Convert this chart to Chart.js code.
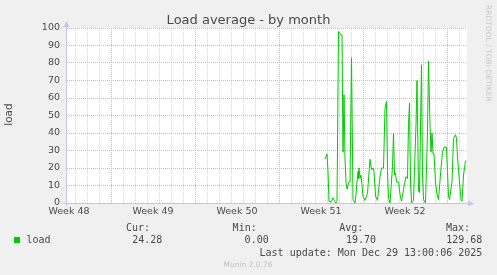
<!DOCTYPE html>
<html>
<head>
<meta charset="utf-8">
<script src="https://cdn.jsdelivr.net/npm/chart.js@4/dist/chart.umd.min.js"></script>
<style>
  html, body { margin: 0; padding: 0; background: #f0f0f0; }
  canvas { display: block; }
</style>
</head>
<body>
<canvas id="chart" width="497" height="275"></canvas>
<script>
// sample times, hours from the start of week 49
const sampleHours = [428, 432, 434, 436, 440, 444, 448, 450, 452, 455, 458, 460, 462, 464, 466, 468,
  470, 472, 476, 478, 481, 484, 488, 490, 492, 494, 495, 496, 498, 500, 504, 508, 513, 518, 521,
  524, 526, 529, 533, 538, 541, 545, 548, 551, 553, 555, 558, 563, 565, 567, 569, 571, 575, 578,
  581, 587, 590, 593, 595, 597, 599, 601, 605, 610, 612, 615, 617, 621, 623, 625, 629, 633, 635,
  638, 640, 642, 644, 646, 649, 652, 655, 660, 663, 666, 670, 671, 673, 675, 677, 682, 685, 689,
  691, 693, 697, 700, 702, 705, 709, 710];
const loadValues = [25, 28, 18, 1, 0.5, 3, 0.5, 0, 1, 98, 97, 96, 96, 29, 62, 25,
  12, 8, 12, 12, 83, 2, 0, 5, 12, 18, 14, 20, 14, 16, 4, 1.5, 5.5, 25, 19,
  20, 18, 4, 1.5, 15, 20, 20, 54, 58, 18, 3, 0, 21, 40, 16, 17, 12, 12, 5,
  1, 11, 15, 14, 45, 57, 12, 0, 1.5, 45, 70, 7, 6, 79, 16, 2, 0, 41, 81,
  45, 29, 40, 28, 28, 12, 5, 2, 20, 29, 32, 32, 31, 18, 4, 2, 12, 37, 39,
  37, 26, 12, 2, 1, 16, 24, 24.3];

const weekLabels = ['Week 48', 'Week 49', 'Week 50', 'Week 51', 'Week 52'];
const weekLabelHours = [-84, 84, 252, 420, 588];
const yTickValues = [0, 10, 20, 30, 40, 50, 60, 70, 80, 90, 100];

const seriesName = 'load';
const statNames = ['Cur:', 'Min:', 'Avg:', 'Max:'];
const statValues = ['24.28', '0.00', '19.70', '129.68'];
const lastUpdate = 'Last update: Mon Dec 29 13:00:06 2025';

const axisColor = '#c4c4f0';
const minorGrid = '#d4d4d4';
const majorGrid = '#eeaaaa';
const textColor = '#4a4a4a';
const lineGreen = '#00cc00';

const rrdDecor = {
  id: 'rrdDecor',
  beforeDraw(chart) {
    const { ctx, chartArea: a } = chart;
    ctx.save();
    ctx.fillStyle = '#f0f0f0';
    ctx.fillRect(0, 0, chart.width, chart.height);
    ctx.fillStyle = '#ffffff';
    ctx.fillRect(a.left, a.top, a.right - a.left, a.bottom - a.top);
    ctx.restore();
  },
  afterDraw(chart) {
    const { ctx, chartArea: a } = chart;
    ctx.save();

    // axis arrows
    ctx.strokeStyle = axisColor;
    ctx.fillStyle = axisColor;
    ctx.lineWidth = 1;
    ctx.beginPath();
    ctx.moveTo(a.left - 3, a.bottom + 0.5);
    ctx.lineTo(a.right + 3, a.bottom + 0.5);
    ctx.moveTo(a.left + 0.5, a.bottom + 3);
    ctx.lineTo(a.left + 0.5, a.top - 3);
    ctx.stroke();
    ctx.beginPath();
    ctx.moveTo(a.right + 1, a.bottom - 2.5);
    ctx.lineTo(a.right + 7, a.bottom + 0.5);
    ctx.lineTo(a.right + 1, a.bottom + 3.5);
    ctx.closePath();
    ctx.fill();
    ctx.beginPath();
    ctx.moveTo(a.left - 2.5, a.top - 1);
    ctx.lineTo(a.left + 0.5, a.top - 7);
    ctx.lineTo(a.left + 3.5, a.top - 1);
    ctx.closePath();
    ctx.fill();

    // title
    ctx.fillStyle = textColor;
    ctx.textAlign = 'center';
    ctx.textBaseline = 'alphabetic';
    ctx.font = '13px "DejaVu Sans"';
    ctx.fillText('Load average - by month', 248.5, 24);

    // vertical axis title
    ctx.save();
    ctx.translate(9, 114.5);
    ctx.rotate(-Math.PI / 2);
    ctx.textBaseline = 'middle';
    ctx.font = '10.5px "DejaVu Sans"';
    ctx.fillText('load', 0, 0);
    ctx.restore();

    // side watermark
    ctx.save();
    ctx.translate(488, 5);
    ctx.rotate(Math.PI / 2);
    ctx.fillStyle = '#c8c8c8';
    ctx.textAlign = 'left';
    ctx.textBaseline = 'middle';
    ctx.font = '7.5px "DejaVu Sans"';
    ctx.fillText('RRDTOOL / TOBI OETIKER', 0, 0);
    ctx.restore();

    // legend
    ctx.font = '10px "DejaVu Sans Mono"';
    ctx.fillStyle = lineGreen;
    ctx.fillRect(14, 237, 6, 6);
    ctx.fillStyle = textColor;
    ctx.textAlign = 'left';
    ctx.fillText(seriesName, 26.5, 243);
    const labelRight = [150, 256.7, 363.3, 470];
    const valueRight = [162.3, 268.7, 376, 482.3];
    ctx.textAlign = 'right';
    statNames.forEach((s, i) => ctx.fillText(s, labelRight[i], 231));
    statValues.forEach((s, i) => ctx.fillText(s, valueRight[i], 243));
    ctx.fillText(lastUpdate, 482.3, 255.5);

    ctx.textAlign = 'center';
    ctx.fillStyle = '#c0c0c0';
    ctx.font = '7.5px "DejaVu Sans"';
    ctx.fillText('Munin 2.0.76', 248, 267);

    ctx.restore();
  }
};

const points = sampleHours.map((h, i) => ({ x: h, y: loadValues[i] }));

new Chart(document.getElementById('chart'), {
  type: 'line',
  data: {
    datasets: [{
      label: seriesName,
      data: points,
      borderColor: lineGreen,
      borderWidth: 1,
      pointRadius: 0,
      tension: 0,
      fill: false
    }]
  },
  options: {
    responsive: false,
    animation: false,
    devicePixelRatio: 1,
    layout: { padding: { top: 28, right: 30, left: 0, bottom: 0 } },
    plugins: { legend: { display: false }, tooltip: { enabled: false }, title: { display: false } },
    scales: {
      x: {
        type: 'linear',
        min: -90,
        max: 712,
        afterFit: s => { s.height = 72; },
        afterBuildTicks: s => {
          const t = [];
          for (let h = -84; h <= 708; h += 12) t.push({ value: h });
          s.ticks = t;
        },
        ticks: {
          autoSkip: false,
          maxRotation: 0,
          padding: 3,
          color: textColor,
          font: { family: 'DejaVu Sans', size: 9.5 },
          callback: v => {
            const k = weekLabelHours.indexOf(v);
            return k >= 0 ? weekLabels[k] : '';
          }
        },
        grid: {
          drawTicks: false,
          lineWidth: 1,
          color: c => {
            const v = c.tick ? c.tick.value : 0;
            if (v % 168 === 0) return majorGrid;
            if (v % 24 === 0) return minorGrid;
            return 'rgba(0,0,0,0)';
          }
        },
        border: { display: true, color: axisColor, width: 1, dash: [1, 1] }
      },
      y: {
        min: 0,
        max: 100,
        afterFit: s => { s.width = 66; },
        afterBuildTicks: s => {
          const t = [];
          for (let v = 0; v <= 100; v += 5) t.push({ value: v });
          s.ticks = t;
        },
        ticks: {
          padding: 6,
          color: textColor,
          font: { family: 'DejaVu Sans', size: 9.5 },
          callback: v => (yTickValues.includes(v) ? String(v) : '')
        },
        grid: {
          drawTicks: false,
          lineWidth: 1,
          color: c => {
            const v = c.tick ? c.tick.value : 0;
            return v % 10 === 0 ? majorGrid : minorGrid;
          }
        },
        border: { display: true, color: axisColor, width: 1, dash: [1, 1] }
      }
    }
  },
  plugins: [rrdDecor]
});
</script>
</body>
</html>
